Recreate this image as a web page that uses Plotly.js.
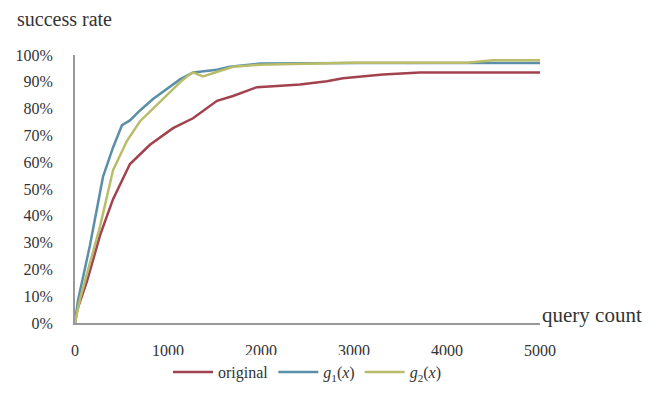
<!DOCTYPE html>
<html>
<head>
<meta charset="utf-8">
<script src="https://cdn.plot.ly/plotly-3.0.1.min.js"></script>
<style>html,body{margin:0;padding:0;background:#fff;}#chart{width:666px;height:401px;}</style>
</head>
<body>
<div id="chart"></div>
<script>
// query count (x) and success rate (y) per series
const originalX = [0, 22, 129, 269, 409, 591, 806, 1054, 1269, 1419, 1527, 1699, 1957, 2172, 2419, 2709, 2881, 3311, 3709, 5000];
const originalY = [0, 0.047, 0.156, 0.327, 0.462, 0.593, 0.665, 0.727, 0.764, 0.80, 0.829, 0.847, 0.88, 0.884, 0.89, 0.902, 0.913, 0.927, 0.935, 0.935];
const g1X = [0, 32, 161, 301, 409, 505, 591, 699, 839, 989, 1129, 1269, 1527, 1666, 1989, 3064, 5000];
const g1Y = [0, 0.084, 0.29, 0.545, 0.655, 0.738, 0.756, 0.793, 0.836, 0.873, 0.909, 0.935, 0.945, 0.956, 0.968, 0.97, 0.97];
const g2X = [0, 54, 269, 409, 559, 699, 839, 1021, 1129, 1204, 1269, 1376, 1527, 1699, 1989, 2956, 4214, 4494, 5000];
const g2Y = [0, 0.09, 0.36, 0.57, 0.68, 0.753, 0.80, 0.862, 0.898, 0.92, 0.935, 0.92, 0.938, 0.956, 0.964, 0.971, 0.971, 0.98, 0.98];
const seriesNames = ["original", "<i>g</i><sub>1</sub>(<i>x</i>)", "<i>g</i><sub>2</sub>(<i>x</i>)"];
const xTicks = [0, 1000, 2000, 3000, 4000, 5000];
const yTicks = [0, 0.1, 0.2, 0.3, 0.4, 0.5, 0.6, 0.7, 0.8, 0.9, 1.0];

const font = "Liberation Serif, Times New Roman, serif";
const traces = [
  {x: originalX, y: originalY, name: seriesNames[0], mode: "lines", line: {color: "#a2424f", width: 2.5}},
  {x: g1X, y: g1Y, name: seriesNames[1], mode: "lines", line: {color: "#5b8fa8", width: 2.5}},
  {x: g2X, y: g2Y, name: seriesNames[2], mode: "lines", line: {color: "#b9bd6a", width: 2.5}}
];
const layout = {
  width: 666, height: 401,
  margin: {l: 75, r: 126, t: 55, b: 71},
  paper_bgcolor: "#fff", plot_bgcolor: "#fff",
  font: {family: font, size: 16, color: "#333"},
  showlegend: true,
  legend: {orientation: "h", x: 0.5, xanchor: "center", y: -0.12, yanchor: "top",
           font: {family: font, size: 16, color: "#333"}, itemwidth: 40},
  xaxis: {range: [0, 5000], tickvals: xTicks, ticks: "", showgrid: false, zeroline: false,
          showline: true, linecolor: "#999", linewidth: 2, ticklabelstandoff: 12,
          tickfont: {family: font, size: 16, color: "#333"}},
  yaxis: {range: [0, 1], tickvals: yTicks, tickformat: ".0%", ticks: "", showgrid: false, zeroline: false,
          showline: true, linecolor: "#999", linewidth: 2, ticklabelstandoff: 17,
          tickfont: {family: font, size: 16, color: "#333"}},
  annotations: [
    {text: "success rate", xref: "paper", yref: "paper", x: -0.13, y: 1.135, xanchor: "left", yanchor: "middle",
     showarrow: false, font: {family: font, size: 20, color: "#333"}},
    {text: "query count", xref: "paper", yref: "paper", x: 1.0, y: 0.03, xanchor: "left", yanchor: "middle",
     showarrow: false, font: {family: font, size: 21, color: "#333"}}
  ]
};
Plotly.newPlot("chart", traces, layout, {displayModeBar: false, staticPlot: true});
</script>
</body>
</html>
